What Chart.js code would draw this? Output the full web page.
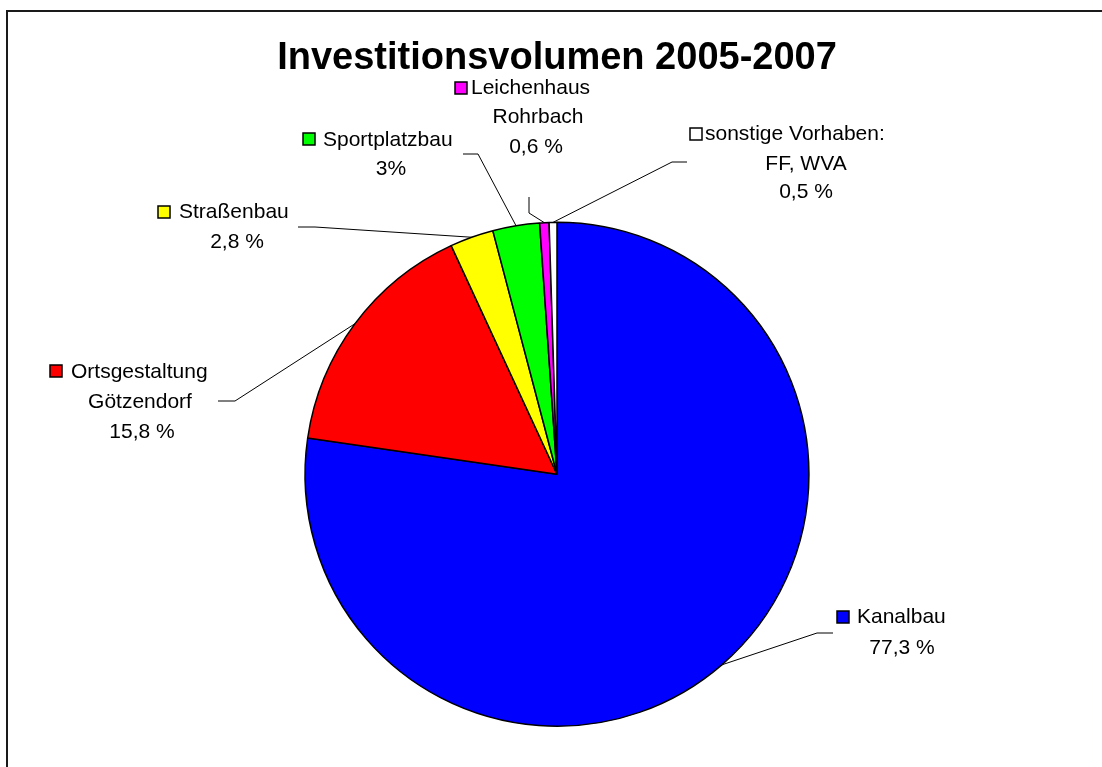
<!DOCTYPE html>
<html lang="de">
<head>
<meta charset="utf-8">
<title>Investitionsvolumen 2005-2007</title>
<script src="https://cdn.jsdelivr.net/npm/chart.js@4.4.1/dist/chart.umd.min.js"></script>
<style>
    html, body { margin: 0; padding: 0; background: #fff; overflow: hidden; }
    #rahmen {
        position: absolute; left: 6px; top: 10px;
        width: 1200px; height: 900px;
        border: 2px solid #1a1a1a;
    }
    #chart { position: absolute; left: 0; top: 0; }
</style>
</head>
<body>
<div id="rahmen"></div>
<canvas id="chart" width="1102" height="767"></canvas>
<script>
// Daten
const kategorien = [
    ['Kanalbau'],
    ['Ortsgestaltung', 'Götzendorf'],
    ['Straßenbau'],
    ['Sportplatzbau'],
    ['Leichenhaus', 'Rohrbach'],
    ['sonstige Vorhaben:', 'FF, WVA']
];
const anteile = [77.3, 15.8, 2.8, 3, 0.6, 0.5];
const anteilTexte = ['77,3 %', '15,8 %', '2,8 %', '3%', '0,6 %', '0,5 %'];
const farben = ['#0000ff', '#ff0000', '#ffff00', '#00ff00', '#ff00ff', '#ffffff'];

// Lage der Beschriftungen (Pixel im Bild)
const beschriftung = [
    { box: [837, 611], zeilen: [[857, 623], [902, 654]], knick: [817, 633], ende: [833, 633] },
    { box: [50, 365], zeilen: [[71, 378], [140, 408], [142, 438]], knick: [235, 401], ende: [218, 401] },
    { box: [158, 206], zeilen: [[179, 218], [237, 248]], knick: [315, 227], ende: [298, 227] },
    { box: [303, 133], zeilen: [[323, 146], [391, 175]], knick: [478, 154], ende: [463, 154] },
    { box: [455, 82], zeilen: [[471, 94], [538, 123], [536, 153]], knick: [529, 213], ende: [529, 197] },
    { box: [690, 128], zeilen: [[705, 140], [806, 170], [806, 198]], knick: [672, 162], ende: [687, 162] }
];

const schrift = '21px "Liberation Sans", Arial, sans-serif';

const beschriftungPlugin = {
    id: 'beschriftung',
    afterDatasetsDraw(chart) {
        const ctx = chart.ctx;
        const meta = chart.getDatasetMeta(0);
        ctx.save();
        meta.data.forEach((arc, i) => {
            const p = arc.getProps(['x', 'y', 'startAngle', 'endAngle', 'outerRadius'], true);
            const mitte = (p.startAngle + p.endAngle) / 2;
            const rx = p.x + Math.cos(mitte) * p.outerRadius;
            const ry = p.y + Math.sin(mitte) * p.outerRadius;
            const l = beschriftung[i];

            // Führungslinie
            ctx.strokeStyle = '#000';
            ctx.lineWidth = 1;
            ctx.beginPath();
            ctx.moveTo(rx, ry);
            ctx.lineTo(l.knick[0], l.knick[1]);
            ctx.lineTo(l.ende[0], l.ende[1]);
            ctx.stroke();

            // Legendenkästchen
            ctx.fillStyle = farben[i];
            ctx.fillRect(l.box[0], l.box[1], 12, 12);
            ctx.lineWidth = 1.5;
            ctx.strokeRect(l.box[0], l.box[1], 12, 12);

            // Texte
            const texte = kategorien[i].concat([anteilTexte[i]]);
            ctx.font = schrift;
            ctx.fillStyle = '#000';
            ctx.textBaseline = 'alphabetic';
            texte.forEach((t, j) => {
                const [tx, ty] = l.zeilen[j];
                ctx.textAlign = j === 0 ? 'left' : 'center';
                ctx.fillText(t, tx, ty);
            });
        });
        ctx.restore();
    }
};

document.addEventListener('DOMContentLoaded', function() {
    const ctx = document.getElementById('chart').getContext('2d');
    new Chart(ctx, {
        type: 'pie',
        data: {
            labels: kategorien.map(k => k.join(' ')),
            datasets: [{
                data: anteile,
                backgroundColor: farben,
                borderColor: '#000',
                borderWidth: 1.5
            }]
        },
        options: {
            responsive: false,
            animation: false,
            layout: { padding: { top: 36, bottom: 40, left: 12, right: 0 } },
            plugins: {
                legend: { display: false },
                tooltip: { enabled: false },
                title: {
                    display: true,
                    text: 'Investitionsvolumen 2005-2007',
                    color: '#000',
                    font: { family: '"Liberation Sans", Arial, sans-serif', size: 38, weight: 'bold', lineHeight: 1.2 },
                    padding: { top: 0, bottom: 140 }
                }
            }
        },
        plugins: [beschriftungPlugin]
    });
});
</script>
</body>
</html>
